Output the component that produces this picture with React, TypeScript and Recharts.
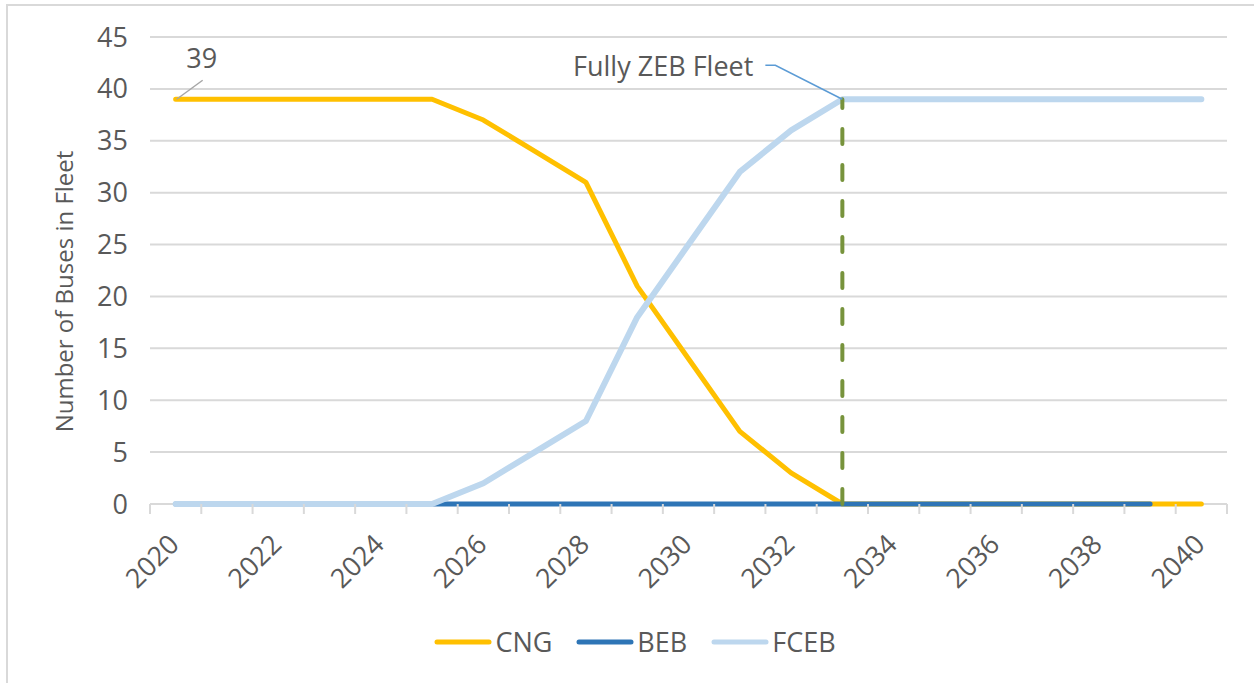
import React from 'react';
import { LineChart, Line, XAxis, YAxis, CartesianGrid, Legend, ReferenceLine } from 'recharts';

const years = [2020, 2021, 2022, 2023, 2024, 2025, 2026, 2027, 2028, 2029, 2030, 2031, 2032, 2033, 2034, 2035, 2036, 2037, 2038, 2039, 2040];
const cngValues = [39, 39, 39, 39, 39, 39, 37, 34, 31, 21, 14, 7, 3, 0, 0, 0, 0, 0, 0, 0, 0];
const bebValues: (number | null)[] = [0, 0, 0, 0, 0, 0, 0, 0, 0, 0, 0, 0, 0, 0, 0, 0, 0, 0, 0, 0, null];
const fcebValues = [0, 0, 0, 0, 0, 0, 2, 5, 8, 18, 25, 32, 36, 39, 39, 39, 39, 39, 39, 39, 39];
const yTicks = [0, 5, 10, 15, 20, 25, 30, 35, 40, 45];
const xLabelYears = [2020, 2022, 2024, 2026, 2028, 2030, 2032, 2034, 2036, 2038, 2040];
const zebYear = 2033;
const zebFleetSize = 39;
const zebText = 'Fully ZEB Fleet';
const yTitle = 'Number of Buses in Fleet';

const seriesNames = ['CNG', 'BEB', 'FCEB'];
const seriesColors = ['#FFC000', '#2E75B6', '#BDD7EE'];
const seriesWidths = [5, 5, 6];

const data = years.map((year, i) => ({ year, CNG: cngValues[i], BEB: bebValues[i], FCEB: fcebValues[i] }));
const boundaryTicks = [...years.map((y) => y - 0.5), years[years.length - 1] + 0.5];
const allXTicks = [...boundaryTicks, ...xLabelYears].sort((a, b) => a - b);

const FONT = "'Open Sans', 'Noto Sans', sans-serif";
const TEXT = '#595959';
const GRID = '#D9D9D9';

const XTick = (props: any) => {
  const { x, y, payload } = props;
  const v = payload.value;
  if (!Number.isInteger(v)) {
    return <line x1={x} y1={y} x2={x} y2={y + 10} stroke={GRID} strokeWidth={2} />;
  }
  return (
    <g transform={`translate(${x + 5},${y + 42})`}>
      <text textAnchor="end" transform="rotate(-45)" fill={TEXT} fontSize={27} fontFamily={FONT}>
        {v}
      </text>
    </g>
  );
};

const YTitle = (props: any) => {
  const { viewBox } = props;
  const cx = viewBox.x + 63;
  const cy = viewBox.y + viewBox.height / 2 + 21;
  return (
    <text x={cx} y={cy} transform={`rotate(-90, ${cx}, ${cy})`} textAnchor="middle" dominantBaseline="central" fill={TEXT} fontSize={24} fontFamily={FONT}>
      {yTitle}
    </text>
  );
};

const CngStartLabel = (props: any) => {
  const { x, y, index, value } = props;
  if (index !== 0) return null;
  return (
    <g>
      <line x1={x + 1} y1={y} x2={x + 27} y2={y - 19} stroke="#A6A6A6" strokeWidth={1.5} />
      <text x={x + 26} y={y - 31} textAnchor="middle" fill={TEXT} fontSize={27} fontFamily={FONT}>
        {value}
      </text>
    </g>
  );
};

const ZebLabel = (props: any) => {
  const { viewBox } = props;
  const x = viewBox.x;
  const y = viewBox.y;
  return (
    <g>
      <polyline points={`${x},${y} ${x - 67},${y - 34} ${x - 77},${y - 34}`} fill="none" stroke="#5B9BD5" strokeWidth={1.5} />
      <text x={x - 89} y={y - 23} textAnchor="end" fill={TEXT} fontSize={27} fontFamily={FONT}>
        {zebText}
      </text>
    </g>
  );
};

const LegendContent = () => (
  <div style={{ display: 'flex', justifyContent: 'center', alignItems: 'center', marginLeft: 16, height: 40 }}>
    {seriesNames.map((name, i) => (
      <div key={name} style={{ display: 'flex', alignItems: 'center', marginRight: i < seriesNames.length - 1 ? 24 : 0 }}>
        <svg width={58} height={10} style={{ display: 'block' }}>
          <line x1={3} y1={5} x2={55} y2={5} stroke={seriesColors[i]} strokeWidth={5} strokeLinecap="round" />
        </svg>
        <span style={{ marginLeft: 3, fontSize: 27, fontFamily: FONT, color: TEXT, lineHeight: '40px' }}>{name}</span>
      </div>
    ))}
  </div>
);

export default function App() {
  return (
    <div style={{ position: 'absolute', left: 0, top: 0, width: 1254, height: 683, overflow: 'hidden', background: '#fff' }}>
      <div style={{ position: 'absolute', left: 6, top: 4, width: 1260, height: 690, borderTop: `2px solid ${GRID}`, borderLeft: `2px solid ${GRID}` }} />
      <div style={{ position: 'absolute', left: 0, top: 0 }}>
        <LineChart width={1254} height={683} data={data} margin={{ top: 37, right: 27, left: 0, bottom: 21 }}>
          <CartesianGrid vertical={false} stroke={GRID} strokeWidth={2} />
          <XAxis
            dataKey="year"
            type="number"
            domain={[boundaryTicks[0], boundaryTicks[boundaryTicks.length - 1]]}
            ticks={allXTicks}
            interval={0}
            tick={<XTick />}
            tickLine={false}
            tickSize={0}
            tickMargin={0}
            axisLine={false}
            height={118}
            allowDecimals
          />
          <YAxis
            type="number"
            domain={[0, 45]}
            ticks={yTicks}
            interval={0}
            width={150}
            axisLine={false}
            tickLine={false}
            tickSize={0}
            tickMargin={22}
            tick={{ fill: TEXT, fontSize: 27, fontFamily: FONT }}
            label={<YTitle />}
          />
          <Legend verticalAlign="bottom" height={40} wrapperStyle={{ left: 0, width: 1254 }} content={<LegendContent />} />
          {seriesNames.map((name, i) => (
            <Line
              key={name}
              dataKey={name}
              stroke={seriesColors[i]}
              strokeWidth={seriesWidths[i]}
              strokeLinecap="round"
              strokeLinejoin="round"
              dot={false}
              activeDot={false}
              isAnimationActive={false}
              label={name === 'CNG' ? <CngStartLabel /> : undefined}
            />
          ))}
          <ReferenceLine
            segment={[{ x: zebYear, y: 0 }, { x: zebYear, y: zebFleetSize }]}
            stroke="#77933C"
            strokeWidth={4}
            strokeDasharray="15 21"
            strokeLinecap="round"
            label={<ZebLabel />}
          />
        </LineChart>
      </div>
    </div>
  );
}
